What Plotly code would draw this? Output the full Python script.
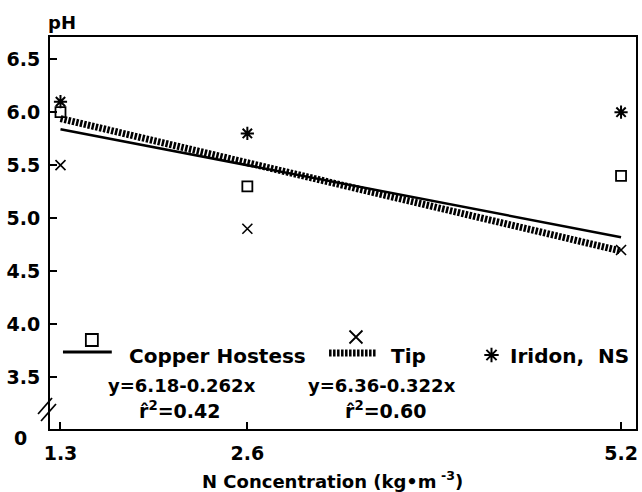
import plotly.graph_objects as go

# ---- data ----
n_conc = [1.3, 2.6, 5.2]
copper_hostess = [6.0, 5.3, 5.4]
tip = [5.5, 4.9, 4.7]
iridon = [6.1, 5.8, 6.0]

fit_x = [1.3, 5.2]
copper_fit = [5.84, 4.82]
tip_fit = [5.94, 4.69]

x_ticks = [1.3, 2.6, 5.2]
x_tick_text = ["1.3", "2.6", "5.2"]
y_ticks = [3.5, 4.0, 4.5, 5.0, 5.5, 6.0, 6.5]
y_tick_text = ["3.5", "4.0", "4.5", "5.0", "5.5", "6.0", "6.5"]

# ---- layout geometry (page pixels) ----
W, H = 642, 492
PL, PR, PT, PB = 50, 638, 37, 429
PW, PH = PR - PL, PB - PT


def px(x):
    return (x - PL) / PW


def py(y):
    return (PB - y) / PH


FONT = dict(family="DejaVu Sans", size=19, color="black", weight="bold")
HATCH = dict(color="black", width=7, dash="2.5px,1.5px")

fig = go.Figure()

# regression lines
fig.add_trace(go.Scatter(x=fit_x, y=tip_fit, mode="lines", line=HATCH, showlegend=False))
fig.add_trace(go.Scatter(x=fit_x, y=copper_fit, mode="lines",
                         line=dict(color="black", width=2.5), showlegend=False))

# points
fig.add_trace(go.Scatter(x=n_conc, y=copper_hostess, mode="markers",
                         marker=dict(symbol="square-open", size=10, color="black",
                                     line=dict(width=1.8, color="black")),
                         showlegend=False))
fig.add_trace(go.Scatter(x=n_conc, y=tip, mode="markers",
                         marker=dict(symbol="x-thin-open", size=10, color="black",
                                     line=dict(width=1.6, color="black")),
                         showlegend=False))
fig.add_trace(go.Scatter(x=n_conc, y=iridon, mode="markers",
                         marker=dict(symbol="asterisk-open", size=11, color="black",
                                     line=dict(width=2, color="black")),
                         showlegend=False))

# legend keys on an overlay axis spanning the plot area (0..1)
leg_marks = [
    (92, 340, "square-open", 12, 1.8),
    (357, 337, "x-thin-open", 13, 1.8),
    (493, 355, "asterisk-open", 12, 2),
]
for lx, ly, sym, sz, lw in leg_marks:
    fig.add_trace(go.Scatter(x=[px(lx)], y=[py(ly)], mode="markers", xaxis="x2", yaxis="y2",
                             marker=dict(symbol=sym, size=sz, color="black",
                                         line=dict(width=lw, color="black")),
                             showlegend=False))
fig.add_trace(go.Scatter(x=[px(63), px(112)], y=[py(352), py(352)], mode="lines",
                         xaxis="x2", yaxis="y2", line=dict(color="black", width=3),
                         showlegend=False))
fig.add_trace(go.Scatter(x=[px(330), px(377)], y=[py(353), py(353)], mode="lines",
                         xaxis="x2", yaxis="y2", line=HATCH, showlegend=False))

annotations = []


def add_text(text, x, y, xanchor="left", size=19):
    f = dict(FONT)
    f["size"] = size
    annotations.append(dict(text=text, x=px(x), y=py(y), xref="paper", yref="paper",
                            xanchor=xanchor, yanchor="middle", showarrow=False, font=f))


add_text("Copper Hostess", 127, 356, size=20)
add_text("Tip", 390, 356, size=20)
add_text("Iridon,\u00a0 NS", 510, 356, size=20)
add_text("y=6.18-0.262x", 106, 385, size=18)
add_text("r\u0302<sup>2</sup>=0.42", 137, 410)
add_text("y=6.36-0.322x", 307, 385, size=18)
add_text("r\u0302<sup>2</sup>=0.60", 344, 410)
add_text("pH", 62, 22, xanchor="center", size=18)
add_text("0", 20, 438, xanchor="center")
add_text("N Concentration (kg\u2022m<sup> -3</sup>)", 333, 480, xanchor="center", size=18)

shapes = [
    dict(type="line", xref="paper", yref="paper",
         x0=px(38), y0=py(414), x1=px(52), y1=py(398),
         line=dict(color="black", width=1.8)),
    dict(type="line", xref="paper", yref="paper",
         x0=px(41), y0=py(421), x1=px(56), y1=py(404),
         line=dict(color="black", width=1.8)),
]

fig.update_layout(
    width=W, height=H,
    margin=dict(l=PL, r=W - PR, t=PT, b=H - PB, pad=0),
    paper_bgcolor="white", plot_bgcolor="white",
    font=FONT,
    showlegend=False,
    annotations=annotations,
    shapes=shapes,
    xaxis=dict(range=[1.227, 5.304], tickvals=x_ticks, ticktext=x_tick_text,
               ticks="inside", ticklen=7, tickwidth=1.5, tickcolor="black",
               showline=True, linecolor="black", linewidth=2, mirror=True,
               showgrid=False, zeroline=False, ticklabelstandoff=6),
    yaxis=dict(range=[3.01, 6.71], tickvals=y_ticks, ticktext=y_tick_text,
               ticks="inside", ticklen=7, tickwidth=1.5, tickcolor="black",
               showline=True, linecolor="black", linewidth=2, mirror=True,
               showgrid=False, zeroline=False, ticklabelstandoff=4),
    xaxis2=dict(range=[0, 1], overlaying="x", visible=False, anchor="y2"),
    yaxis2=dict(range=[0, 1], overlaying="y", visible=False, anchor="x2"),
)

# remove the default page margin so the figure sits at the window's top-left corner
fig.write_html("out.html",
               config={"displayModeBar": False},
               post_script="document.body.style.margin='0';document.body.style.overflow='hidden';")
